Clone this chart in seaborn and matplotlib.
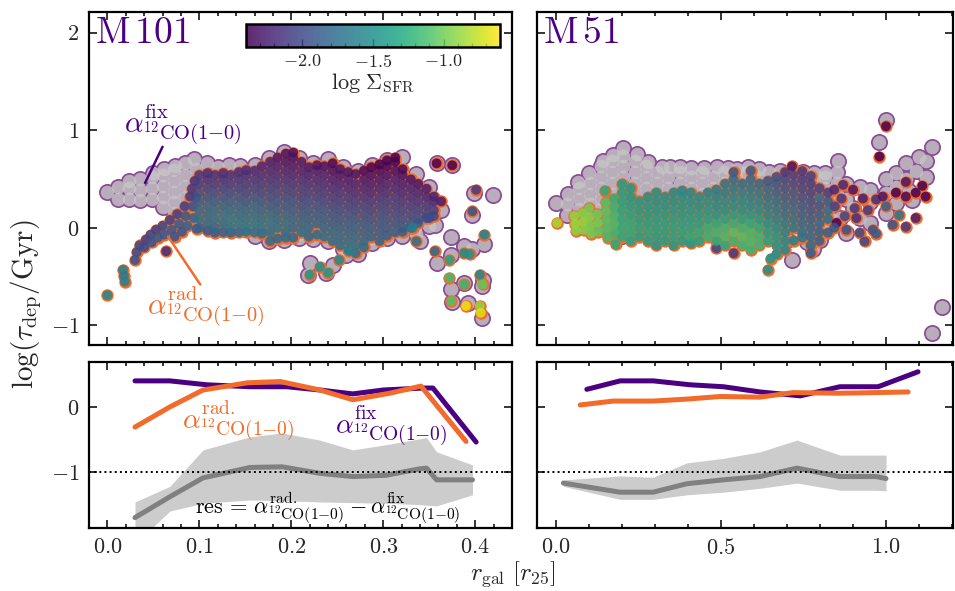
import numpy as np
import matplotlib
matplotlib.use("Agg")
from matplotlib import pyplot as plt
from matplotlib.ticker import MultipleLocator
from matplotlib.colors import Normalize
from matplotlib.cm import ScalarMappable
import seaborn as sns

# ---------------- data ----------------
# M 101, fixed alpha_CO: (r_gal [r25], log tau_dep)
m101_fix = [
    (0.000, 0.37),
    (0.012, 0.30), (0.012, 0.42),
    (0.024, 0.30), (0.024, 0.41), (0.024, 0.48),
    (0.036, 0.28), (0.036, 0.39), (0.036, 0.50),
    (0.048, 0.30), (0.048, 0.41), (0.048, 0.52), (0.050, 0.56),
    (0.060, 0.21), (0.060, 0.32), (0.060, 0.43), (0.060, 0.54), (0.062, 0.60),
    (0.072, 0.15), (0.072, 0.26), (0.072, 0.37), (0.072, 0.48), (0.072, 0.59), (0.074, 0.63),
    (0.084, 0.10), (0.084, 0.21), (0.084, 0.32), (0.084, 0.43), (0.084, 0.54), (0.084, 0.66),
    (0.096, 0.05), (0.096, 0.16), (0.096, 0.27), (0.096, 0.38), (0.096, 0.49), (0.096, 0.60), (0.094, 0.70),
    (0.108, 0.10), (0.108, 0.21), (0.108, 0.32), (0.108, 0.43), (0.108, 0.54), (0.108, 0.66),
    (0.120, 0.05), (0.120, 0.16), (0.120, 0.27), (0.120, 0.38), (0.120, 0.49), (0.120, 0.62),
    (0.132, 0.10), (0.132, 0.21), (0.132, 0.32), (0.132, 0.43), (0.132, 0.54), (0.132, 0.64),
    (0.144, 0.05), (0.144, 0.27), (0.144, 0.49), (0.144, 0.63),
    (0.160, 0.64), (0.160, 0.40), (0.160, 0.15), (0.160, -0.08),
    (0.176, 0.72), (0.176, 0.48), (0.176, 0.22), (0.176, -0.02), (0.176, -0.14),
    (0.192, 0.78), (0.192, 0.52), (0.192, 0.26), (0.192, 0.00), (0.192, -0.12),
    (0.208, 0.72), (0.208, 0.48), (0.208, 0.22), (0.208, -0.06), (0.208, -0.10),
    (0.224, 0.66), (0.224, 0.42), (0.224, 0.18), (0.224, -0.06), (0.224, -0.11),
    (0.240, 0.70), (0.240, 0.45), (0.240, 0.20), (0.240, -0.05), (0.240, -0.14),
    (0.256, 0.62), (0.256, 0.38), (0.256, 0.12), (0.256, -0.12), (0.256, -0.22),
    (0.272, 0.58), (0.272, 0.34), (0.272, 0.08), (0.272, -0.16), (0.272, -0.27),
    (0.288, 0.64), (0.288, 0.40), (0.288, 0.15), (0.288, -0.10), (0.288, -0.16),
    (0.304, 0.69), (0.304, 0.45), (0.304, 0.20), (0.304, -0.05), (0.304, -0.10),
    (0.320, 0.73), (0.320, 0.50), (0.320, 0.25), (0.320, 0.00), (0.320, -0.08),
    (0.336, 0.55), (0.336, 0.30), (0.336, 0.05), (0.336, -0.06),
    (0.350, 0.42), (0.350, 0.18), (0.350, 0.02),
    (0.220, -0.36), (0.218, -0.48), (0.238, -0.46), (0.245, -0.38), (0.260, -0.28),
    (0.358, 0.66), (0.375, 0.64), (0.419, 0.34), (0.399, 0.36), (0.397, 0.13), (0.363, 0.18),
    (0.356, 0.03), (0.340, -0.14), (0.374, -0.09), (0.388, -0.19), (0.410, -0.17), (0.358, -0.36),
    (0.374, -0.28), (0.396, -0.22), (0.408, -0.53), (0.407, -0.60), (0.374, -0.63), (0.388, -0.56),
    (0.375, -0.76), (0.392, -0.77), (0.407, -0.92), (0.334, 0.00), (0.300, -0.09),
]

# M 101, radial alpha_CO: (r_gal [r25], log tau_dep, log Sigma_SFR)
m101_rad = [
    (0.000, -0.69, -1.55),
    (0.017, -0.43, -1.62), (0.018, -0.49, -1.65), (0.019, -0.55, -1.62),
    (0.030, -0.33, -1.95), (0.032, -0.25, -1.98), (0.035, -0.18, -2.00),
    (0.040, -0.20, -2.00), (0.042, -0.12, -2.05), (0.047, -0.07, -2.00), (0.048, -0.15, -1.95),
    (0.053, -0.02, -2.05), (0.055, -0.10, -1.90), (0.060, 0.02, -2.00), (0.062, -0.07, -1.92), (0.064, -0.24, -2.15),
    (0.068, 0.08, -2.05), (0.070, -0.02, -1.90), (0.073, -0.09, -1.95), (0.076, 0.14, -2.05), (0.078, 0.04, -1.88),
    (0.081, -0.04, -1.92), (0.084, 0.22, -2.05), (0.085, 0.12, -1.90), (0.087, 0.02, -1.85), (0.090, 0.32, -2.10),
    (0.092, 0.40, -2.10), (0.093, 0.22, -1.95), (0.094, 0.10, -1.82), (0.095, 0.48, -2.12), (0.096, 0.31, -2.00), (0.097, -0.01, -1.90),
    (0.100, 0.00, -1.85), (0.100, 0.09, -1.75), (0.100, 0.18, -1.78), (0.100, 0.27, -1.85), (0.100, 0.36, -1.95), (0.100, 0.45, -2.05), (0.100, 0.54, -2.10),
    (0.109, -0.03, -1.90), (0.109, 0.045, -1.78), (0.109, 0.135, -1.75), (0.109, 0.225, -1.80), (0.109, 0.315, -1.90), (0.109, 0.405, -2.00), (0.109, 0.495, -2.10), (0.109, 0.56, -2.15),
    (0.117, -0.05, -1.88), (0.117, 0.00, -1.80), (0.117, 0.09, -1.72), (0.117, 0.18, -1.75), (0.117, 0.27, -1.85), (0.117, 0.36, -1.95), (0.117, 0.45, -2.05), (0.117, 0.54, -2.12),
    (0.126, -0.045, -1.85), (0.126, 0.045, -1.72), (0.126, 0.135, -1.70), (0.126, 0.225, -1.80), (0.126, 0.315, -1.90), (0.126, 0.405, -2.00), (0.126, 0.495, -2.10), (0.126, 0.56, -2.15),
    (0.134, -0.05, -1.82), (0.134, 0.00, -1.70), (0.134, 0.09, -1.68), (0.134, 0.18, -1.75), (0.134, 0.27, -1.85), (0.134, 0.36, -1.95), (0.134, 0.45, -2.05), (0.134, 0.54, -2.12),
    (0.143, -0.045, -1.80), (0.143, 0.045, -1.68), (0.143, 0.135, -1.72), (0.143, 0.225, -1.80), (0.143, 0.315, -1.90), (0.143, 0.405, -2.00), (0.143, 0.495, -2.10), (0.143, 0.57, -2.15),
    (0.151, -0.04, -1.75), (0.151, 0.00, -1.68), (0.151, 0.09, -1.70), (0.151, 0.18, -1.78), (0.151, 0.27, -1.88), (0.151, 0.36, -1.98), (0.151, 0.45, -2.05), (0.151, 0.54, -2.12), (0.151, 0.59, -2.15),
    (0.160, -0.045, -1.75), (0.160, 0.045, -1.68), (0.160, 0.135, -1.72), (0.160, 0.225, -1.80), (0.160, 0.315, -1.90), (0.160, 0.405, -2.00), (0.160, 0.495, -2.08), (0.160, 0.585, -2.15),
    (0.168, -0.06, -1.78), (0.168, 0.00, -1.70), (0.168, 0.09, -1.72), (0.168, 0.18, -1.80), (0.168, 0.27, -1.88), (0.168, 0.36, -1.98), (0.168, 0.45, -2.05), (0.168, 0.54, -2.12), (0.168, 0.63, -2.20),
    (0.177, -0.135, -1.78), (0.177, -0.045, -1.72), (0.177, 0.045, -1.70), (0.177, 0.135, -1.75), (0.177, 0.225, -1.85), (0.177, 0.315, -1.95), (0.177, 0.405, -2.02), (0.177, 0.495, -2.10), (0.177, 0.585, -2.15), (0.177, 0.675, -2.22),
    (0.185, -0.11, -1.80), (0.185, 0.00, -1.72), (0.185, 0.09, -1.75), (0.185, 0.18, -1.82), (0.185, 0.27, -1.90), (0.185, 0.36, -1.98), (0.185, 0.45, -2.05), (0.185, 0.54, -2.12), (0.185, 0.63, -2.20), (0.185, 0.72, -2.28),
    (0.194, -0.10, -1.78), (0.194, -0.045, -1.75), (0.194, 0.045, -1.72), (0.194, 0.135, -1.80), (0.194, 0.225, -1.88), (0.194, 0.315, -1.95), (0.194, 0.405, -2.02), (0.194, 0.495, -2.10), (0.194, 0.585, -2.18), (0.194, 0.675, -2.25), (0.194, 0.76, -2.30),
    (0.202, -0.10, -1.80), (0.202, 0.00, -1.78), (0.202, 0.09, -1.80), (0.202, 0.18, -1.85), (0.202, 0.27, -1.92), (0.202, 0.36, -2.00), (0.202, 0.45, -2.08), (0.202, 0.54, -2.15), (0.202, 0.63, -2.22), (0.202, 0.72, -2.30), (0.202, 0.77, -2.32),
    (0.211, -0.045, -1.75), (0.211, 0.045, -1.80), (0.211, 0.135, -1.85), (0.211, 0.225, -1.92), (0.211, 0.315, -2.00), (0.211, 0.405, -2.05), (0.211, 0.495, -2.12), (0.211, 0.585, -2.20), (0.211, 0.675, -2.25),
    (0.219, -0.09, -1.80), (0.219, 0.00, -1.78), (0.219, 0.09, -1.82), (0.219, 0.18, -1.88), (0.219, 0.27, -1.95), (0.219, 0.36, -2.02), (0.219, 0.45, -2.10), (0.219, 0.54, -2.18), (0.219, 0.62, -2.25),
    (0.228, -0.07, -1.78), (0.228, 0.045, -1.80), (0.228, 0.135, -1.85), (0.228, 0.225, -1.92), (0.228, 0.315, -2.00), (0.228, 0.405, -2.08), (0.228, 0.495, -2.15), (0.228, 0.585, -2.22), (0.228, 0.64, -2.30),
    (0.236, -0.09, -1.75), (0.236, 0.00, -1.80), (0.236, 0.09, -1.85), (0.236, 0.18, -1.90), (0.236, 0.27, -1.98), (0.236, 0.36, -2.05), (0.236, 0.45, -2.12), (0.236, 0.54, -2.20), (0.236, 0.63, -2.30),
    (0.245, -0.135, -1.75), (0.245, -0.045, -1.78), (0.245, 0.045, -1.85), (0.245, 0.135, -1.90), (0.245, 0.225, -1.98), (0.245, 0.315, -2.05), (0.245, 0.405, -2.12), (0.245, 0.495, -2.20), (0.245, 0.585, -2.28), (0.245, 0.66, -2.35),
    (0.253, -0.18, -1.75), (0.253, -0.09, -1.78), (0.253, 0.00, -1.82), (0.253, 0.09, -1.88), (0.253, 0.18, -1.95), (0.253, 0.27, -2.02), (0.253, 0.36, -2.10), (0.253, 0.45, -2.18), (0.253, 0.54, -2.25), (0.253, 0.60, -2.30),
    (0.262, -0.225, -1.72), (0.262, -0.135, -1.75), (0.262, -0.045, -1.80), (0.262, 0.045, -1.85), (0.262, 0.135, -1.92), (0.262, 0.225, -2.00), (0.262, 0.315, -2.08), (0.262, 0.405, -2.15), (0.262, 0.495, -2.22), (0.262, 0.57, -2.30),
    (0.270, -0.26, -1.75), (0.270, -0.18, -1.72), (0.270, -0.09, -1.78), (0.270, 0.00, -1.82), (0.270, 0.09, -1.90), (0.270, 0.18, -1.98), (0.270, 0.27, -2.05), (0.270, 0.36, -2.12), (0.270, 0.45, -2.20), (0.270, 0.55, -2.30),
    (0.279, -0.20, -1.78), (0.279, -0.135, -1.78), (0.279, -0.045, -1.82), (0.279, 0.045, -1.88), (0.279, 0.135, -1.95), (0.279, 0.225, -2.02), (0.279, 0.315, -2.10), (0.279, 0.405, -2.18), (0.279, 0.495, -2.25), (0.279, 0.585, -2.35),
    (0.287, -0.09, -1.82), (0.287, 0.00, -1.85), (0.287, 0.09, -1.92), (0.287, 0.18, -2.00), (0.287, 0.27, -2.08), (0.287, 0.36, -2.15), (0.287, 0.45, -2.22), (0.287, 0.54, -2.30), (0.287, 0.62, -2.38),
    (0.296, -0.135, -1.82), (0.296, -0.045, -1.85), (0.296, 0.045, -1.90), (0.296, 0.135, -1.95), (0.296, 0.225, -2.02), (0.296, 0.315, -2.10), (0.296, 0.405, -2.18), (0.296, 0.495, -2.25), (0.296, 0.585, -2.32), (0.296, 0.65, -2.40),
    (0.304, -0.08, -1.85), (0.304, 0.00, -1.88), (0.304, 0.09, -1.92), (0.304, 0.18, -1.98), (0.304, 0.27, -2.05), (0.304, 0.36, -2.12), (0.304, 0.45, -2.20), (0.304, 0.54, -2.28), (0.304, 0.63, -2.35), (0.304, 0.69, -2.40),
    (0.313, -0.045, -1.85), (0.313, 0.045, -1.90), (0.313, 0.135, -1.95), (0.313, 0.225, -2.02), (0.313, 0.315, -2.08), (0.313, 0.405, -2.15), (0.313, 0.495, -2.22), (0.313, 0.585, -2.30), (0.313, 0.675, -2.38), (0.313, 0.72, -2.40),
    (0.321, -0.04, -1.85), (0.321, 0.00, -1.88), (0.321, 0.09, -1.95), (0.321, 0.18, -2.00), (0.321, 0.27, -2.08), (0.321, 0.36, -2.15), (0.321, 0.45, -2.22), (0.321, 0.54, -2.30), (0.321, 0.60, -2.35),
    (0.330, 0.00, -1.80), (0.330, 0.045, -1.90), (0.330, 0.135, -1.98), (0.330, 0.225, -2.05), (0.330, 0.315, -2.12), (0.330, 0.405, -2.20), (0.330, 0.495, -2.30),
    (0.338, 0.05, -1.85), (0.338, 0.09, -1.95), (0.338, 0.18, -2.02), (0.338, 0.27, -2.10), (0.338, 0.36, -2.18), (0.338, 0.45, -2.28),
    (0.347, 0.10, -1.95), (0.347, 0.135, -2.00), (0.347, 0.225, -2.08), (0.347, 0.315, -2.18), (0.347, 0.40, -2.25),
    (0.355, 0.12, -2.00), (0.355, 0.18, -2.05), (0.355, 0.27, -2.15), (0.355, 0.32, -2.22),
    (0.220, -0.48, -1.45), (0.231, -0.40, -1.50), (0.240, -0.46, -1.45), (0.252, -0.33, -1.55), (0.263, -0.24, -1.60),
    (0.358, 0.66, -2.40), (0.375, 0.64, -2.40), (0.363, 0.27, -2.25), (0.401, 0.39, -2.10), (0.397, 0.17, -1.95),
    (0.350, 0.10, -2.00), (0.332, 0.00, -1.65), (0.336, -0.14, -1.75), (0.356, -0.24, -1.80), (0.372, -0.33, -1.35),
    (0.388, -0.26, -1.55), (0.394, -0.27, -1.50), (0.410, -0.07, -1.60), (0.372, -0.51, -1.15), (0.388, -0.58, -1.20),
    (0.405, -0.48, -1.55), (0.408, -0.58, -1.05), (0.374, -0.75, -1.10), (0.390, -0.80, -0.65), (0.405, -0.80, -0.90),
    (0.406, -0.87, -0.70),
]

# M 51, fixed alpha_CO
m51_fix = [
    (0.000, 0.25),
    (0.034, 0.13), (0.034, 0.24), (0.036, 0.35),
    (0.068, 0.08), (0.068, 0.19), (0.068, 0.30), (0.068, 0.41), (0.067, 0.47),
    (0.102, 0.13), (0.102, 0.24), (0.102, 0.35), (0.102, 0.46), (0.100, 0.56),
    (0.136, 0.08), (0.136, 0.19), (0.136, 0.30), (0.136, 0.41), (0.136, 0.52), (0.136, 0.63), (0.142, 0.68),
    (0.170, 0.24), (0.170, 0.35), (0.170, 0.46), (0.170, 0.57), (0.170, 0.68), (0.173, 0.75),
    (0.204, 0.30), (0.204, 0.41), (0.204, 0.52), (0.204, 0.63), (0.204, 0.74), (0.203, 0.82),
    (0.238, 0.24), (0.238, 0.35), (0.238, 0.46), (0.238, 0.57), (0.238, 0.68), (0.245, 0.76),
    (0.272, 0.19), (0.272, 0.30), (0.272, 0.41), (0.272, 0.52), (0.272, 0.63), (0.278, 0.67),
    (0.306, 0.24), (0.306, 0.35), (0.306, 0.46), (0.306, 0.57), (0.320, 0.62),
    (0.340, 0.19), (0.340, 0.30), (0.340, 0.41), (0.340, 0.52), (0.345, 0.62),
    (0.374, 0.24), (0.374, 0.35), (0.374, 0.46), (0.374, 0.57), (0.376, 0.62),
    (0.408, 0.19), (0.408, 0.30), (0.408, 0.41), (0.408, 0.52), (0.410, 0.61),
    (0.442, 0.24), (0.442, 0.35), (0.442, 0.46), (0.442, 0.57), (0.448, 0.61),
    (0.476, 0.19), (0.476, 0.30), (0.476, 0.41), (0.476, 0.52), (0.488, 0.62),
    (0.510, 0.24), (0.510, 0.35), (0.510, 0.46), (0.510, 0.57), (0.520, 0.61),
    (0.544, 0.30), (0.544, 0.41), (0.544, 0.52), (0.548, 0.60),
    (0.578, 0.35), (0.578, 0.46), (0.578, 0.57), (0.582, 0.62),
    (0.612, 0.30), (0.612, 0.41), (0.612, 0.52), (0.615, 0.60),
    (0.646, 0.35), (0.646, 0.46), (0.646, 0.57),
    (0.680, 0.30), (0.680, 0.41), (0.680, 0.52), (0.680, 0.58),
    (0.714, 0.35), (0.714, 0.46), (0.714, 0.57),
    (0.748, 0.30), (0.748, 0.41), (0.748, 0.52), (0.748, 0.57),
    (0.782, 0.35), (0.782, 0.46), (0.782, 0.56),
    (0.816, 0.30), (0.816, 0.41), (0.816, 0.52), (0.816, 0.56),
    (0.850, 0.35), (0.850, 0.46), (0.850, 0.57), (0.855, 0.68),
    (0.10, 0.00), (0.20, 0.10), (0.20, -0.08), (0.30, 0.10), (0.30, -0.10), (0.40, 0.10),
    (0.40, -0.10), (0.50, 0.10), (0.50, -0.12), (0.60, 0.10), (0.60, -0.12), (0.70, 0.10),
    (0.70, -0.12), (0.715, -0.33), (0.760, -0.15), (0.780, -0.22), (0.800, -0.12), (0.820, -0.02),
    (0.830, 0.10), (0.860, 0.10), (0.880, -0.05),
    (0.880, 0.45), (0.880, 0.30), (0.900, 0.20), (0.920, 0.42), (0.920, 0.10), (0.950, 0.39),
    (0.950, 0.26), (0.950, 0.05), (0.980, 0.88), (1.000, 1.10), (1.000, 0.50), (1.000, 0.36),
    (1.000, 0.15), (1.030, 0.56), (1.030, 0.42), (1.030, 0.25), (1.060, 0.66), (1.060, 0.50),
    (1.070, 0.38), (1.080, 0.28), (1.090, 0.58), (1.100, 0.73), (1.120, 0.68), (1.140, 0.83),
    (1.120, 0.52), (1.170, -0.81), (1.140, -1.08),
]

# M 51, radial alpha_CO: (r_gal, log tau_dep, log Sigma_SFR)
m51_rad = [
    (0.003, 0.05, -0.85),
    (0.055, 0.12, -0.90), (0.058, 0.04, -0.88), (0.060, -0.03, -0.92),
    (0.080, 0.15, -0.95), (0.082, 0.06, -0.90), (0.084, -0.02, -0.95),
    (0.100, 0.20, -1.00), (0.102, 0.11, -0.95), (0.104, 0.02, -0.98), (0.106, -0.06, -1.00),
    (0.125, 0.14, -1.02), (0.127, 0.05, -1.00), (0.128, -0.04, -1.05),
    (0.148, 0.38, -1.30), (0.150, 0.26, -1.10), (0.151, 0.17, -1.08), (0.152, 0.08, -1.10), (0.153, -0.01, -1.12), (0.156, -0.10, -1.15),
    (0.175, 0.30, -1.25), (0.176, 0.21, -1.20), (0.177, 0.12, -1.18), (0.178, 0.03, -1.15), (0.179, -0.06, -1.20), (0.180, -0.17, -1.30),
    (0.200, -0.09, -1.30), (0.200, 0.00, -1.28), (0.200, 0.09, -1.30), (0.200, 0.18, -1.32), (0.200, 0.27, -1.35), (0.200, 0.36, -1.38), (0.200, 0.45, -1.40),
    (0.226, -0.135, -1.35), (0.226, -0.045, -1.30), (0.226, 0.045, -1.30), (0.226, 0.135, -1.35), (0.226, 0.225, -1.40), (0.226, 0.315, -1.42), (0.226, 0.405, -1.45),
    (0.252, -0.09, -1.38), (0.252, 0.00, -1.35), (0.252, 0.09, -1.38), (0.252, 0.18, -1.42), (0.252, 0.27, -1.45),
    (0.278, -0.135, -1.40), (0.278, -0.045, -1.35), (0.278, 0.045, -1.38), (0.278, 0.135, -1.42), (0.278, 0.225, -1.45), (0.278, 0.315, -1.48),
    (0.304, -0.18, -1.45), (0.304, -0.09, -1.38), (0.304, 0.00, -1.36), (0.304, 0.09, -1.40), (0.304, 0.18, -1.44), (0.304, 0.27, -1.48), (0.304, 0.36, -1.50),
    (0.330, -0.135, -1.40), (0.330, -0.045, -1.36), (0.330, 0.045, -1.38), (0.330, 0.135, -1.42), (0.330, 0.225, -1.46), (0.330, 0.315, -1.50),
    (0.356, -0.18, -1.42), (0.356, -0.09, -1.35), (0.356, 0.00, -1.35), (0.356, 0.09, -1.40), (0.356, 0.18, -1.45), (0.356, 0.27, -1.48), (0.356, 0.36, -1.52),
    (0.382, -0.135, -1.40), (0.382, -0.045, -1.35), (0.382, 0.045, -1.38), (0.382, 0.135, -1.42), (0.382, 0.225, -1.46), (0.382, 0.315, -1.50), (0.382, 0.38, -1.55),
    (0.408, -0.16, -1.45), (0.408, -0.09, -1.30), (0.408, 0.00, -1.35), (0.408, 0.09, -1.40), (0.408, 0.18, -1.45), (0.408, 0.27, -1.50), (0.408, 0.36, -1.55),
    (0.434, -0.135, -1.35), (0.434, -0.045, -1.30), (0.434, 0.045, -1.36), (0.434, 0.135, -1.42), (0.434, 0.225, -1.48), (0.434, 0.315, -1.52),
    (0.460, -0.09, -1.22), (0.460, 0.00, -1.25), (0.460, 0.09, -1.38), (0.460, 0.18, -1.45), (0.460, 0.27, -1.50), (0.460, 0.36, -1.58),
    (0.486, -0.21, -2.00), (0.486, -0.135, -1.30), (0.486, -0.045, -1.20), (0.486, 0.045, -1.30), (0.486, 0.135, -1.45), (0.486, 0.225, -1.52), (0.486, 0.315, -1.58), (0.486, 0.39, -1.62),
    (0.512, -0.18, -1.30), (0.512, -0.09, -1.15), (0.512, 0.00, -1.20), (0.512, 0.09, -1.35), (0.512, 0.18, -1.48), (0.512, 0.27, -1.55), (0.512, 0.36, -1.62), (0.512, 0.45, -1.68),
    (0.538, -0.26, -2.10), (0.538, -0.135, -1.20), (0.538, -0.045, -1.12), (0.538, 0.045, -1.25), (0.538, 0.135, -1.40), (0.538, 0.225, -1.52), (0.538, 0.315, -1.58), (0.538, 0.405, -1.65), (0.538, 0.495, -1.75), (0.538, 0.57, -1.90),
    (0.564, -0.18, -1.20), (0.564, -0.09, -1.12), (0.564, 0.00, -1.20), (0.564, 0.09, -1.35), (0.564, 0.18, -1.48), (0.564, 0.27, -1.55), (0.564, 0.36, -1.62), (0.564, 0.45, -1.72),
    (0.590, -0.225, -1.20), (0.590, -0.135, -1.15), (0.590, -0.045, -1.18), (0.590, 0.045, -1.30), (0.590, 0.135, -1.45), (0.590, 0.225, -1.55), (0.590, 0.315, -1.62), (0.590, 0.405, -1.70), (0.590, 0.495, -1.78), (0.590, 0.585, -1.88),
    (0.616, -0.18, -1.20), (0.616, -0.09, -1.20), (0.616, 0.00, -1.30), (0.616, 0.09, -1.42), (0.616, 0.18, -1.52), (0.616, 0.27, -1.60), (0.616, 0.36, -1.68), (0.616, 0.45, -1.78),
    (0.642, -0.43, -1.50), (0.650, -0.315, -1.45), (0.642, -0.135, -1.35), (0.642, -0.045, -1.40), (0.642, 0.045, -1.50), (0.642, 0.135, -1.58), (0.642, 0.225, -1.65), (0.642, 0.315, -1.72), (0.642, 0.405, -1.80), (0.642, 0.48, -1.88),
    (0.668, -0.27, -1.50), (0.668, -0.18, -1.45), (0.668, -0.09, -1.45), (0.668, 0.00, -1.52), (0.668, 0.09, -1.60), (0.668, 0.18, -1.68), (0.668, 0.27, -1.75), (0.668, 0.36, -1.82), (0.668, 0.45, -1.90), (0.668, 0.52, -1.95),
    (0.694, -0.225, -1.55), (0.694, -0.135, -1.55), (0.694, -0.045, -1.60), (0.694, 0.045, -1.65), (0.694, 0.135, -1.72), (0.694, 0.225, -1.78), (0.694, 0.315, -1.85), (0.694, 0.405, -1.92), (0.694, 0.495, -1.98), (0.694, 0.57, -2.10),
    (0.720, -0.13, -1.60), (0.720, 0.00, -1.68), (0.720, 0.09, -1.72), (0.720, 0.18, -1.78), (0.720, 0.27, -1.85), (0.720, 0.36, -1.90), (0.720, 0.45, -1.98), (0.720, 0.54, -2.05), (0.715, 0.63, -2.30),
    (0.746, -0.10, -1.70), (0.746, -0.045, -1.72), (0.746, 0.045, -1.78), (0.746, 0.135, -1.82), (0.746, 0.225, -1.88), (0.746, 0.315, -1.95), (0.746, 0.405, -2.00), (0.746, 0.495, -2.05), (0.746, 0.58, -2.10),
    (0.772, -0.26, -1.90), (0.772, -0.18, -1.80), (0.772, -0.09, -1.78), (0.772, 0.00, -1.80), (0.772, 0.09, -1.85), (0.772, 0.18, -1.90), (0.772, 0.27, -1.95), (0.772, 0.36, -2.00), (0.772, 0.45, -2.05), (0.772, 0.53, -2.05),
    (0.798, -0.135, -1.85), (0.798, -0.045, -1.82), (0.798, 0.045, -1.80), (0.798, 0.135, -1.85), (0.798, 0.225, -1.90), (0.798, 0.315, -1.80), (0.798, 0.405, -2.05),
    (0.824, -0.05, -1.85), (0.824, 0.09, -1.75), (0.824, 0.18, -1.75), (0.824, 0.27, -1.90), (0.824, 0.36, -2.05),
    (0.843, 0.39, -2.20), (0.845, 0.22, -2.05), (0.850, 0.05, -2.40), (0.843, 0.00, -1.90), (0.865, 0.30, -2.10),
    (0.870, 0.44, -2.20), (0.875, 0.12, -2.00), (0.880, -0.02, -1.95), (0.900, 0.39, -2.30), (0.905, 0.20, -2.10),
    (0.910, 0.10, -2.15), (0.920, -0.05, -2.00), (0.930, 0.30, -2.25), (0.935, -0.14, -2.00), (0.945, 0.18, -2.10),
    (0.960, -0.02, -1.95), (0.970, 0.29, -2.15), (0.970, -0.06, -1.90), (0.990, 0.32, -2.30), (1.000, 1.04, -2.40),
    (1.000, 0.22, -1.85), (0.980, 0.73, -2.40), (1.020, 0.03, -1.95), (1.030, 0.36, -2.40), (1.040, 0.13, -1.70),
    (1.060, 0.47, -2.30), (1.060, 0.32, -2.35), (1.060, 0.01, -2.10), (1.090, 0.36, -2.40), (1.090, 0.10, -2.25),
    (1.110, 0.43, -2.40), (1.120, 0.32, -2.40),
]

# bottom panels: binned radial profiles
m101_fix_r = [0.030, 0.068, 0.108, 0.155, 0.195, 0.231, 0.267, 0.300, 0.343, 0.354, 0.401]
m101_fix_tau = [0.40, 0.40, 0.34, 0.31, 0.31, 0.26, 0.20, 0.26, 0.29, 0.29, -0.54]
m101_rad_r = [0.030, 0.068, 0.104, 0.152, 0.188, 0.231, 0.267, 0.307, 0.341, 0.390]
m101_rad_tau = [-0.31, 0.00, 0.26, 0.37, 0.39, 0.26, 0.11, 0.21, 0.32, -0.53]
m101_res_r = [0.030, 0.068, 0.104, 0.155, 0.190, 0.231, 0.267, 0.303, 0.340, 0.347, 0.358, 0.397]
m101_res = [-1.70, -1.38, -1.09, -0.93, -0.92, -1.02, -1.07, -1.05, -0.95, -0.94, -1.12, -1.12]
m101_res_hi = [-1.46, -1.22, -0.66, -0.46, -0.40, -0.51, -0.66, -0.58, -0.49, -0.47, -0.69, -0.89]
m101_res_lo = [-2.10, -1.60, -1.48, -1.43, -1.44, -1.46, -1.47, -1.48, -1.50, -1.51, -1.52, -1.35]

m51_fix_r = [0.093, 0.194, 0.295, 0.406, 0.507, 0.618, 0.740, 0.860, 0.976, 1.097]
m51_fix_tau = [0.27, 0.40, 0.40, 0.34, 0.31, 0.23, 0.17, 0.31, 0.31, 0.54]
m51_rad_r = [0.073, 0.173, 0.294, 0.396, 0.497, 0.618, 0.718, 0.860, 0.970, 1.067]
m51_rad_tau = [0.03, 0.09, 0.09, 0.12, 0.16, 0.15, 0.22, 0.21, 0.22, 0.23]
m51_res_r = [0.022, 0.194, 0.294, 0.396, 0.507, 0.618, 0.730, 0.860, 0.970, 1.000]
m51_res = [-1.17, -1.31, -1.31, -1.18, -1.12, -1.07, -0.94, -1.07, -1.07, -1.10]
m51_res_hi = [-1.12, -1.06, -1.08, -0.86, -0.79, -0.69, -0.51, -0.74, -0.74, -0.74]
m51_res_lo = [-1.22, -1.42, -1.42, -1.35, -1.31, -1.25, -1.17, -1.28, -1.28, -1.29]

# ---------------- style ----------------
sns.set_style("ticks")
plt.rcParams["font.family"] = "serif"
plt.rcParams["font.serif"] = ["cmr10", "DejaVu Serif"]
plt.rcParams["mathtext.fontset"] = "cm"
plt.rcParams["axes.formatter.use_mathtext"] = True
plt.rcParams["axes.unicode_minus"] = True
plt.rcParams["axes.linewidth"] = 1.6
plt.rcParams["axes.edgecolor"] = "black"

c_fix = "#4b0082"
c_rad = "#f26b2a"
c_fix_edge = "#8a4a94"
c_grey = "#c6c6c6"
norm = Normalize(vmin=-2.4, vmax=-0.6)

fig = plt.figure(figsize=(9.55, 5.91), dpi=100)
W, H = 955, 591
def box(x0, y0, x1, y1):
    return [x0 / W, 1 - y1 / H, (x1 - x0) / W, (y1 - y0) / H]

ax_tl = fig.add_axes(box(89, 12, 512, 345))
ax_tr = fig.add_axes(box(537, 12, 953, 345))
ax_bl = fig.add_axes(box(89, 362, 512, 528))
ax_br = fig.add_axes(box(537, 362, 953, 528))


def scatter_panel(ax, fix, rad):
    fr, ft = np.array(fix).T
    rr, rt, rs = np.array(rad).T
    sns.scatterplot(x=fr, y=ft, s=150, color=c_fix_edge, linewidth=0, ax=ax, legend=False)
    sns.scatterplot(x=fr, y=ft, s=95, color=c_grey, alpha=0.8, linewidth=0, ax=ax, legend=False)
    sns.scatterplot(x=rr, y=rt, s=80, color=c_rad, linewidth=0, ax=ax, legend=False)
    sns.scatterplot(x=rr, y=rt, hue=rs, palette="viridis", hue_norm=norm, s=50,
                    alpha=0.85, linewidth=0, ax=ax, legend=False)


scatter_panel(ax_tl, m101_fix, m101_rad)
scatter_panel(ax_tr, m51_fix, m51_rad)


def profile_panel(ax, fr, ft, rr, rt, sr, sv, lo, hi):
    ax.fill_between(sr, lo, hi, color="#cccccc", lw=0, zorder=1)
    sns.lineplot(x=sr, y=sv, color="#808080", lw=3.6, ax=ax, zorder=2)
    sns.lineplot(x=fr, y=ft, color=c_fix, lw=3.6, ax=ax, zorder=3)
    sns.lineplot(x=rr, y=rt, color=c_rad, lw=3.6, ax=ax, zorder=4)
    ax.axhline(-1, color="black", ls=":", lw=1.4, zorder=5)


profile_panel(ax_bl, m101_fix_r, m101_fix_tau, m101_rad_r, m101_rad_tau,
              m101_res_r, m101_res, m101_res_lo, m101_res_hi)
profile_panel(ax_br, m51_fix_r, m51_fix_tau, m51_rad_r, m51_rad_tau,
              m51_res_r, m51_res, m51_res_lo, m51_res_hi)

# axes limits / ticks
for ax in (ax_tl, ax_bl):
    ax.set_xlim(-0.02, 0.44)
    ax.xaxis.set_major_locator(MultipleLocator(0.1))
    ax.xaxis.set_minor_locator(MultipleLocator(0.02))
for ax in (ax_tr, ax_br):
    ax.set_xlim(-0.058, 1.203)
    ax.xaxis.set_major_locator(MultipleLocator(0.5))
    ax.xaxis.set_minor_locator(MultipleLocator(0.1))
for ax in (ax_tl, ax_tr):
    ax.set_ylim(-1.2, 2.21)
    ax.yaxis.set_major_locator(MultipleLocator(1))
    ax.tick_params(labelbottom=False)
for ax in (ax_bl, ax_br):
    ax.set_ylim(-1.86, 0.69)
    ax.yaxis.set_major_locator(MultipleLocator(1))
for ax in (ax_tr, ax_br):
    ax.tick_params(labelleft=False)
for ax in (ax_tl, ax_tr, ax_bl, ax_br):
    ax.set_xlabel("")
    ax.set_ylabel("")
    ax.tick_params(which="both", direction="in", top=True, right=True, labelsize=16, width=1.3)
    ax.tick_params(which="major", length=6, pad=7)
    ax.tick_params(which="minor", length=3)

# labels
ax_tl.text(0.015, 0.985, r"$\mathrm{M\,101}$", transform=ax_tl.transAxes, ha="left", va="top",
           fontsize=27, color=c_fix)
ax_tr.text(0.015, 0.985, r"$\mathrm{M\,51}$", transform=ax_tr.transAxes, ha="left", va="top",
           fontsize=27, color=c_fix)

lab_fix = r"$\alpha^{\mathrm{fix}}_{{}^{12}\mathrm{CO(1{-}0)}}$"
lab_rad = r"$\alpha^{\mathrm{rad.}}_{{}^{12}\mathrm{CO(1{-}0)}}$"
ax_tl.text(0.082, 1.05, lab_fix, ha="center", va="center", fontsize=21, color=c_fix)
ax_tl.plot([0.060, 0.041], [0.83, 0.46], color=c_fix, lw=1.8)
ax_tl.text(0.107, -0.82, lab_rad, ha="center", va="center", fontsize=21, color=c_rad)
ax_tl.plot([0.101, 0.066], [-0.58, -0.09], color=c_rad, lw=1.8)

ax_bl.text(0.142, -0.21, lab_rad, ha="center", va="center", fontsize=20, color=c_rad, zorder=6)
ax_bl.text(0.309, -0.29, lab_fix, ha="center", va="center", fontsize=20, color=c_fix, zorder=6)
ax_bl.text(0.240, -1.56, r"$\mathrm{res}\,=\,\alpha^{\mathrm{rad.}}_{{}^{12}\mathrm{CO(1{-}0)}}"
           r" - \alpha^{\mathrm{fix}}_{{}^{12}\mathrm{CO(1{-}0)}}$",
           ha="center", va="center", fontsize=16, color="black", zorder=6)

fig.text(0.027, 0.485, r"$\log(\tau_{\mathrm{dep}}/\mathrm{Gyr})$", rotation=90,
         ha="center", va="center", fontsize=21)
fig.text(0.537, 1 - 580 / H, r"$r_{\mathrm{gal}}\ [r_{25}]$", ha="center", va="baseline",
         fontsize=18)

# colorbar
cax = fig.add_axes(box(246, 24, 500, 47))
sm = ScalarMappable(norm=norm, cmap="viridis")
cb = fig.colorbar(sm, cax=cax, orientation="horizontal", alpha=0.85)
cb.set_ticks([-2.0, -1.5, -1.0])
cb.ax.xaxis.set_minor_locator(MultipleLocator(0.1))
cb.ax.tick_params(which="both", direction="in", labelsize=13, width=1.0, color="black")
cb.ax.tick_params(which="major", length=6, pad=4)
cb.ax.tick_params(which="minor", length=3)
cb.outline.set_linewidth(1.8)
cb.set_label(r"$\log\,\Sigma_{\mathrm{SFR}}$", fontsize=16, labelpad=1)

fig.savefig("out.png", dpi=100)
